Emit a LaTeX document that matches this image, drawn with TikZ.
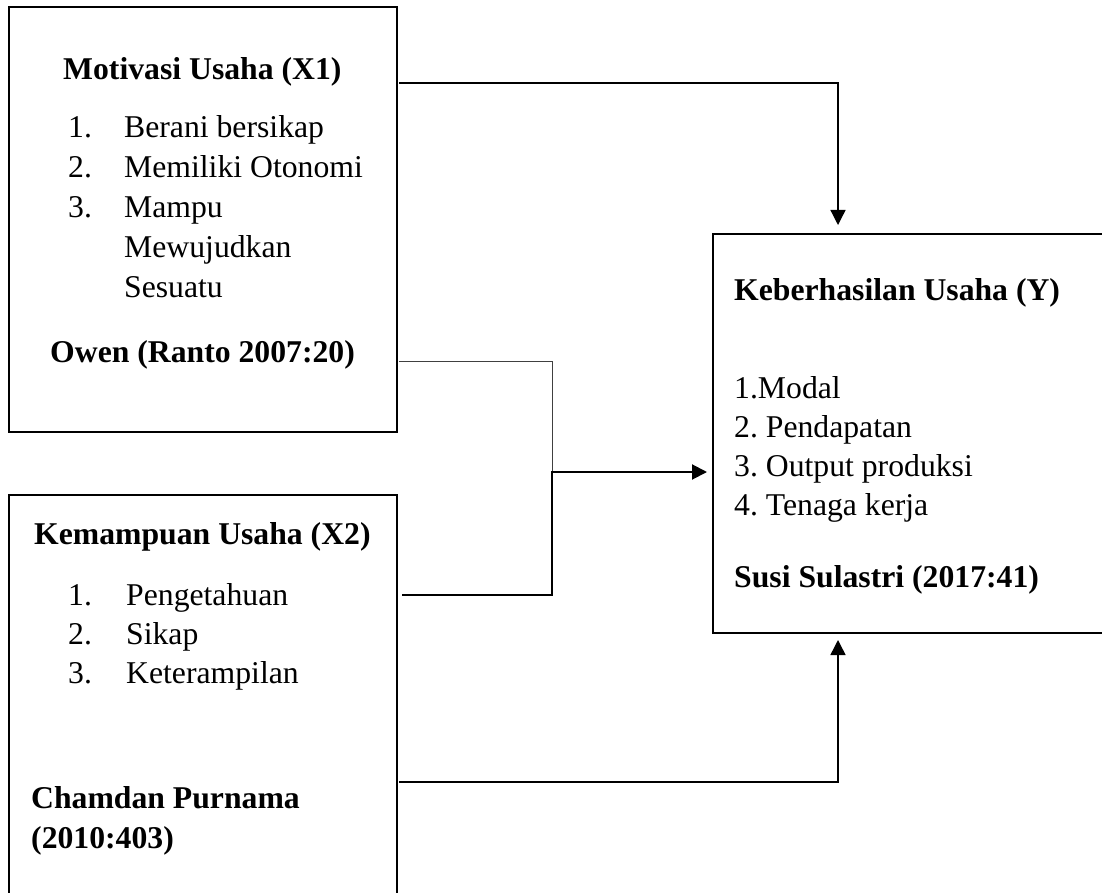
\documentclass[tikz,border=0pt]{standalone}
\usepackage{fontspec}
\setmainfont{Liberation Serif}
\usetikzlibrary{arrows.meta}
\frenchspacing
\tikzset{
box/.style={draw,line width=1.3pt,outer sep=0pt,inner sep=0pt,anchor=north west},
txt/.style={anchor=base west,inner sep=0pt,font=\fontsize{31.7}{40}\selectfont},
hd/.style={anchor=base west,inner sep=0pt,font=\fontsize{31.7}{40}\selectfont\bfseries},
tip/.style={-{Triangle[length=15pt,width=15pt]}}
}
\begin{document}
\begin{tikzpicture}[x=1pt,y=-1pt]
\useasboundingbox(0,0)rectangle(1102,893);
% boxes
\node[box,minimum width=388pt,minimum height=425pt](x1box)at(9,7){};
\node[box,minimum width=388pt,minimum height=420pt](x2box)at(9,495){};
\node[box,minimum width=397pt,minimum height=399pt](ybox)at(713,234){};
% X1
\node[hd](x1head)at(63,80){Motivasi Usaha (X1)};
\foreach \i/\t in {1/Berani bersikap,2/Memiliki Otonomi,3/Mampu}{\node[txt](x1n\i)at(68,{98+40*\i}){\i.};\node[txt](x1i\i)at(124,{98+40*\i}){\t};}
\node[txt](x1i4)at(124,258){Mewujudkan};
\node[txt](x1i5)at(124,297){Sesuatu};
\node[hd](x1src)at(50,362){Owen (Ranto 2007:20)};
% X2
\node[hd](x2head)at(34,544){Kemampuan Usaha (X2)};
\foreach \i/\t in {1/Pengetahuan,2/Sikap,3/Keterampilan}{\node[txt](x2n\i)at(68,{566+39*\i}){\i.};\node[txt](x2i\i)at(126,{566+39*\i}){\t};}
\node[hd](x2src)at(31,808){Chamdan Purnama};
\node[hd](x2yr)at(31,848){(2010:403)};
% Y
\node[hd](yhead)at(734,300){Keberhasilan Usaha (Y)};
\foreach \i/\t in {1/1.Modal,2/2. Pendapatan,3/3. Output produksi,4/4. Tenaga kerja}{\node[txt](yi\i)at(734,{359+39*\i}){\t};}
\node[hd](ysrc)at(734,587){Susi Sulastri (2017:41)};
% connectors
\coordinate(j)at(552,472);
\draw[tip,line width=1.3pt,shorten <=2pt,shorten >=9pt]([yshift=-76pt]x1box.north east)-|([xshift=125pt]ybox.north west);
\draw[line width=1pt,black!75,shorten <=2pt]([yshift=-354pt]x1box.north east)-|(j);
\draw[tip,line width=2pt,shorten <=5pt,shorten >=6pt]([yshift=-100pt]x2box.north east)-|(j)--(ybox.west|-j);
\draw[tip,line width=1.5pt,shorten <=2pt,shorten >=7pt]([yshift=-287pt]x2box.north east)-|([xshift=125pt]ybox.south west);
\end{tikzpicture}
\end{document}
